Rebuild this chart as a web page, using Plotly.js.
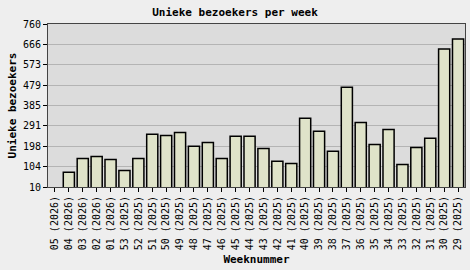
<!DOCTYPE html>
<html><head><meta charset="utf-8">
<script src="https://cdn.plot.ly/plotly-3.0.1.min.js"></script>
<style>html,body{margin:0;padding:0;background:#eeeeee;}#c{width:470px;height:270px;}</style>
</head><body><div id="c"></div>
<script>
const weeks = ["05 (2026)","04 (2026)","03 (2026)","02 (2026)","01 (2026)","53 (2025)","52 (2025)","51 (2025)","50 (2025)","49 (2025)","48 (2025)","47 (2025)","46 (2025)","45 (2025)","44 (2025)","43 (2025)","42 (2025)","41 (2025)","40 (2025)","39 (2025)","38 (2025)","37 (2025)","36 (2025)","35 (2025)","34 (2025)","33 (2025)","32 (2025)","31 (2025)","30 (2025)","29 (2025)"];
const visitors = [0,78,141,150,137,86,141,253,247,261,197,215,141,243,243,187,129,118,326,266,174,469,307,206,275,113,192,234,645,691];
const yTicks = [10,104,198,291,385,479,573,666,760];

const mono = "DejaVu Sans Mono, monospace";
Plotly.newPlot('c', [{
  type: 'bar', x: weeks, y: visitors,
  marker: {color: '#dfe3c9', line: {color: '#000000', width: 1.5}},
  width: 0.8, hoverinfo: 'none'
}], {
  width: 470, height: 270,
  paper_bgcolor: '#eeeeee', plot_bgcolor: '#dcdcdc',
  margin: {l: 48, r: 5, t: 24, b: 83},
  title: {text: '<b>Unieke bezoekers per week</b>', font: {family: mono, size: 11, color: '#000'}, x: 0.5, xanchor: 'center', y: 0.955, yanchor: 'middle'},
  showlegend: false,
  xaxis: {
    type: 'category', tickangle: -90, ticks: 'outside', ticklen: 4, tickcolor: '#000',
    showline: true, linecolor: '#444', linewidth: 1, mirror: true,
    tickfont: {family: mono, size: 10, color: '#000'},
    title: {text: '<b>Weeknummer</b>', font: {family: mono, size: 11, color: '#000'}, standoff: 6},
    showgrid: false, range: [-0.5, 29.5]
  },
  yaxis: {
    range: [10, 760], tickvals: yTicks, ticktext: yTicks.map(String),
    ticks: 'outside', ticklen: 4, tickcolor: '#000',
    showline: true, linecolor: '#444', linewidth: 1, mirror: true,
    gridcolor: '#b4b4b4', gridwidth: 1, zeroline: false,
    tickfont: {family: mono, size: 10, color: '#000'},
    title: {text: '<b>Unieke bezoekers</b>', font: {family: mono, size: 11, color: '#000'}, standoff: 4}
  }
}, {displayModeBar: false, staticPlot: true});
</script></body></html>
